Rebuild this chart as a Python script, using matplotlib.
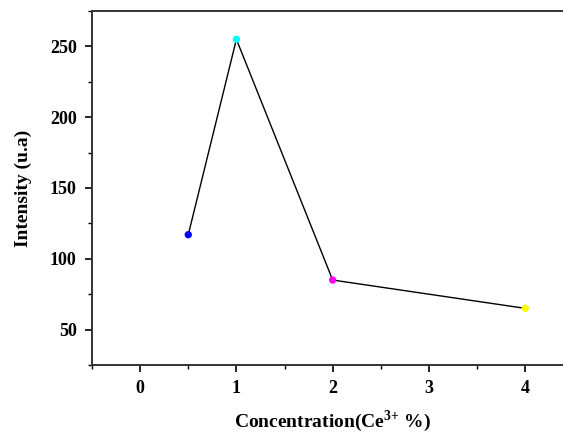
import numpy as np
import matplotlib.pyplot as plt
from matplotlib.ticker import MultipleLocator

# Ce3+ concentration (%) and emission intensity
conc = [0.5, 1, 2, 4]
intensity = [117, 255, 85, 65]
point_colors = ['#0000ff', '#00ffff', '#ff00ff', '#ffff00']

x_ticks = [0, 1, 2, 3, 4]
y_ticks = [50, 100, 150, 200, 250]


def main():
    plt.rcParams['font.family'] = ['Liberation Serif', 'DejaVu Serif']
    plt.rcParams['mathtext.fontset'] = 'custom'
    plt.rcParams['mathtext.rm'] = 'Liberation Serif:bold'
    plt.rcParams['mathtext.bf'] = 'Liberation Serif:bold'

    fig = plt.figure(figsize=(5.63, 4.34), dpi=100)
    ax = fig.add_axes([0.1634, 0.159, 0.855, 0.8157])

    ax.plot(conc, intensity, '-', color='black', lw=1.0, zorder=1)
    ax.scatter(conc, intensity, s=28, c=point_colors, edgecolors='none', zorder=2)

    ax.set_xlim(-0.5, 4.5)
    ax.set_ylim(25, 275)
    ax.set_xticks(x_ticks)
    ax.set_yticks(y_ticks)
    ax.xaxis.set_minor_locator(MultipleLocator(0.5))
    ax.yaxis.set_minor_locator(MultipleLocator(25))

    ax.tick_params(which='major', direction='out', length=5, width=1.2,
                   labelsize=13, pad=6)
    ax.tick_params(which='minor', direction='out', length=3, width=1.0)
    for lab in ax.get_xticklabels() + ax.get_yticklabels():
        lab.set_fontweight('bold')

    for sp in ax.spines.values():
        sp.set_linewidth(1.4)
        sp.set_color('#333333')

    ax.set_xlabel(r'Concentration(Ce$^{3{+}}$ %)', fontsize=14, fontweight='bold', labelpad=8)
    ax.set_ylabel('Intensity (u.a)', fontsize=14, fontweight='bold', labelpad=13)

    fig.savefig('out.png', dpi=100)


if __name__ == '__main__':
    main()
